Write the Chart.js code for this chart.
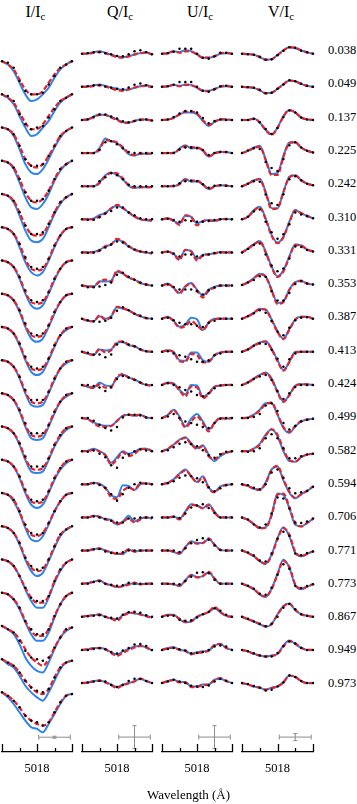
<!DOCTYPE html>
<html>
<head>
<meta charset="utf-8">
<script src="https://cdn.jsdelivr.net/npm/chart.js@4.4.1/dist/chart.umd.min.js"></script>
<style>
  body { margin:0; background:#fff; width:357px; height:804px; overflow:hidden; position:relative; font-family:"Liberation Serif","DejaVu Serif",serif; color:#000; }
  .panel { position:absolute; top:0; }
  .head { position:absolute; top:3px; font-size:16px; transform:translateX(-50%); white-space:nowrap; }
  .head sub { font-size:11px; vertical-align:-3px; line-height:0; }
  .phase { position:absolute; left:328px; font-size:12.5px; line-height:12px; }
  #xtitle { position:absolute; left:147px; top:788px; font-size:13px; line-height:13px; white-space:nowrap; }
</style>
</head>
<body>
<div class="head" style="left:35.5px">I/I<sub>c</sub></div>
<div class="head" style="left:120px">Q/I<sub>c</sub></div>
<div class="head" style="left:200px">U/I<sub>c</sub></div>
<div class="head" style="left:281px">V/I<sub>c</sub></div>
<canvas id="cI" class="panel"></canvas>
<canvas id="cQ" class="panel"></canvas>
<canvas id="cU" class="panel"></canvas>
<canvas id="cV" class="panel"></canvas>
<div id="xtitle">Wavelength (Å)</div>
<script>
// rotation phases, top to bottom
const phases = ['0.038','0.049','0.137','0.225','0.242','0.310','0.331','0.353','0.387','0.413',
                '0.424','0.499','0.582','0.594','0.706','0.771','0.773','0.867','0.949','0.973'];

// wavelength grid (A)
const wavelengths = [5017.4,5017.5,5017.6,5017.7,5017.8,5017.9,5018.0,5018.1,5018.2,5018.3,5018.4,5018.5,5018.6];
const tickLabels = [5018];
const majorTicks = [5017.4, 5018.0, 5018.6];
const minorTicks = [5017.7, 5018.3];

// Stokes I, percent of continuum
const iObs = [
  [100,99,96,88,82,80,80,81,86,91,96,98,100],
  [100,99,96,88,82,79,80,81,86,91,96,98,100],
  [100,99,96,89,81,77,77,78,83,89,95,98,100],
  [100,99,96,89,81,76,76,77,82,89,95,98,100],
  [100,99,96,89,81,76,76,77,82,89,95,98,100],
  [100,99,96,90,82,76,75,76,81,89,95,99,100],
  [100,99,96,90,82,76,75,76,81,89,95,99,100],
  [100,99,96,90,82,76,75,76,81,89,95,99,100],
  [100,99,96,90,82,76,75,76,81,89,95,99,100],
  [100,99,96,90,82,76,76,76,81,89,95,99,100],
  [100,99,96,90,82,76,76,76,81,89,95,99,100],
  [100,99,96,90,82,76,76,76,81,89,95,99,100],
  [100,99,96,90,82,76,75,76,81,89,95,99,100],
  [100,99,96,89,81,76,75,76,82,89,95,99,100],
  [100,99,96,90,81,76,74,75,80,88,95,98,100],
  [100,99,96,90,83,77,75,75,78,87,94,98,100],
  [100,99,96,91,83,78,75,75,78,86,93,98,100],
  [100,98,96,91,85,81,80,79,81,87,93,98,99],
  [100,98,96,92,87,83,81,80,82,89,95,98,99],
  [100,98,95,91,86,83,82,80,82,88,94,98,99]
];
const iDash = [
  [100,98,95,89,83,80,80,82,87,92,96,98,100],
  [100,98,95,89,83,79,79,82,87,92,96,98,100],
  [100,99,96,89,81,77,76,78,83,89,95,98,100],
  [100,99,96,89,81,76,75,77,82,89,95,98,100],
  [100,99,96,89,81,76,75,76,82,89,95,98,100],
  [100,99,96,90,81,75,74,75,81,89,95,99,100],
  [100,99,96,90,81,75,74,75,81,89,95,99,100],
  [100,99,96,90,81,75,74,75,81,89,95,99,100],
  [100,99,96,90,81,75,74,75,81,89,95,99,100],
  [100,99,96,90,81,75,74,75,81,89,95,99,100],
  [100,99,96,90,81,75,74,75,81,89,95,99,100],
  [100,99,96,90,81,75,74,75,81,89,95,99,100],
  [100,99,96,90,81,75,74,75,81,89,95,99,100],
  [100,99,96,89,80,75,74,76,82,89,95,99,100],
  [100,99,96,90,81,75,73,74,80,88,95,98,100],
  [100,99,96,90,83,77,74,74,78,87,94,98,100],
  [100,99,96,91,83,77,74,74,78,86,93,98,100],
  [100,98,96,92,86,81,78,76,80,87,93,98,99],
  [100,98,96,92,87,83,80,79,82,89,95,98,99],
  [100,98,95,91,86,83,81,80,82,88,94,98,99]
];
const iSolid = [
  [100,98,94,87,80,76,77,80,84,90,95,98,100],
  [100,98,94,87,80,75,76,80,84,90,95,98,100],
  [100,99,95,87,78,73,72,75,81,88,94,98,100],
  [100,99,95,87,78,72,71,74,80,88,94,98,100],
  [100,99,95,87,78,72,71,73,80,88,94,98,100],
  [100,99,96,88,79,73,71,73,80,88,95,99,100],
  [100,99,96,89,80,73,71,73,80,88,95,99,100],
  [100,99,96,89,80,73,71,73,80,88,95,99,100],
  [100,99,96,89,80,73,71,73,80,88,95,98,100],
  [100,99,96,89,80,73,72,73,80,88,95,98,100],
  [100,99,96,89,80,73,72,73,80,88,95,98,100],
  [100,99,96,89,80,73,72,73,80,88,94,98,100],
  [100,99,96,89,80,73,71,73,80,88,94,98,100],
  [100,99,95,88,79,72,71,74,81,89,95,99,100],
  [100,99,96,89,80,73,70,72,79,87,94,98,100],
  [100,99,96,90,82,75,71,71,77,86,93,98,100],
  [100,99,96,90,82,75,71,71,76,85,93,98,100],
  [100,98,95,89,81,76,73,72,78,86,93,97,99],
  [100,97,95,90,84,80,77,75,80,87,94,98,99],
  [100,97,93,88,83,79,78,76,81,87,93,98,99]
];

// Stokes Q, units of 1e-3 I_c
const qObs = [
  [0,0.3,0.7,0.8,0.3,-0.3,-1.2,-1.3,-0.3,1.3,1.7,0.8,-0.3],
  [0,0.3,0.8,0.8,0.2,-0.5,-1,-1.2,-0.3,1,1.7,0.8,0],
  [0,0.3,1.5,2.8,2.8,1.8,0.8,-0.7,-1.2,-0.5,0,0.2,-0.2],
  [0,0,0,1.5,5.5,6,4.5,2.5,0.5,0,0,0,0],
  [0,0,0,2.5,4.5,6.5,5.5,3.5,0.8,0,0,0,0],
  [0,-0.2,-0.2,1,3,4.2,6,6,3.5,2,0.5,0,0],
  [0,-0.2,0,1,2.5,4,5.5,5,3,1.5,0.5,0.2,0],
  [0,-0.8,-0.8,-0.5,0.3,1.5,5.5,6.5,4.5,3,1.5,0.5,0],
  [0,-0.8,-1.3,-1.5,-1,0.5,4,5.8,4.2,2.5,1.5,0.3,0],
  [0,-0.5,-1.3,-1.3,-2.7,-1.3,3.7,5,3.7,2.8,1.3,0.3,0],
  [0,0,-0.5,-1.3,-3,-1.3,3,4.5,3.7,2.5,1.2,0.2,0],
  [0,0,-1.3,-3.3,-5,-6.3,-4.5,0.3,1.7,1.7,1.3,0.3,0],
  [0,-0.3,0.3,-1.3,-3,-7,-8.3,-3.3,-1.7,0,0.8,0.3,0],
  [0,0,0.5,-0.3,-1.7,-5,-8.3,-5,-1.7,0,0.8,0.3,0],
  [0,0,0.5,0,-0.8,-1.7,-2.5,-2.5,-0.5,-0.5,0,0,0],
  [0,0,0.5,0.8,-0.5,-1.2,-1.2,-0.8,0,0,0,0,0],
  [0,0,0.8,1.2,0,-0.5,-1,-0.8,0.5,0,0,0,0],
  [0,0.3,0.5,0.8,0,-0.5,-0.8,1,2.3,2.5,2,0.8,0],
  [0,0,0.5,0.8,0.3,-1,-1.8,-0.3,1,2.8,3,2,0],
  [0,0.3,0.8,1.2,0.8,-1,-2,-1,1,2.2,2,1,0]
];
const qDash = [
  [0,0,0.5,1,0.3,-0.7,-1.7,-2,-1.3,-0.3,0.3,0.5,-0.3],
  [0,0,0.5,0.8,0.2,-0.8,-1.7,-2,-1.3,-0.3,0.3,0.5,-0.2],
  [0,0.3,1.3,2.5,2.5,1.2,0,-1.3,-1.5,-0.5,0.2,0.2,-0.3],
  [0,0,0,1.8,6.5,6.2,5.3,3,0,-1,-0.3,-0.3,-0.3],
  [0,0,0,1.5,5,6.8,6.5,4,0.5,-0.7,-0.5,-0.5,-0.5],
  [0,0,0,1.5,3,5.5,7.3,5.8,3.5,1.5,0,-0.3,-0.5],
  [0,0,0,1,3.2,4,6.8,5.5,3.3,1.5,0.5,0,-0.5],
  [0,-0.3,-0.5,2,3,2,7.5,6,4,3,1.3,0.5,0],
  [0,-1,-1.3,1.7,-0.5,1,6,5.3,4.2,2.5,1.3,0.3,0],
  [0,-0.8,-1.5,1.5,-0.3,0.8,4.8,5.3,3.5,2.8,1.2,0.3,0],
  [0,-0.8,-1.5,0.3,-1.3,-1,4,5.5,3.7,2.8,1.2,0,-0.2],
  [0,-0.5,-2.5,-4.3,-4.3,-4,-1.5,1,1.7,1.3,1.7,0.3,0],
  [0,0,0.8,-0.2,-2,-6.7,-4,-0.5,-2.5,-1.3,1,1.2,0],
  [0,0,0.8,0,-2,-6.5,-7.3,-3.3,-1.7,-2.8,0.5,0.5,0],
  [0,0,0.8,0.3,-1,-1.5,-3.5,-2.3,-0.5,-2.5,-1,0,-0.5],
  [0,0,0.8,1,0,-0.8,-1.7,-1.5,0.8,-0.5,0,0,0],
  [0,0.3,1,1.5,0,-0.8,-1.7,-1.3,-0.5,0.5,-0.3,0,0],
  [0,0.5,0.8,1.2,0,-1,-2,0.5,1.8,2,1.2,0.3,-0.5],
  [0,0.3,0.8,1,0.3,-1.5,-3,-1.5,0,1.2,2,1.3,-0.3],
  [0,0.3,0.8,1.2,0.3,-1,-2.5,-1,-0.2,0.8,2.2,1,0]
];
const qSolid = [
  [0,0.3,0.8,1.3,0.5,-0.5,-1.2,-1.7,-1.2,-0.5,0.3,0.7,-0.3],
  [0,0.3,0.7,1.2,0.5,-0.3,-1,-1.5,-1.2,-0.5,0.3,0.8,0],
  [0,0.5,1.7,2.8,2.5,1.5,0.3,-1.2,-1.3,-0.5,0.2,0.3,-0.3],
  [0,0,0,2.5,7.3,6,5,2.5,-0.5,-1.2,-0.3,-0.3,-0.3],
  [0,0,0,2,5.5,6.8,5.8,3.5,0.2,-0.8,-0.5,-0.5,-0.5],
  [0,0,0.5,2.2,3.2,5.5,7,5.5,3.5,1.3,0,-0.5,-0.7],
  [0,0,0.2,1.3,3,4,6.5,5.3,3,1.3,0.5,0,-0.5],
  [0,-0.3,-0.5,2.2,2,2.5,7,6,4,3,1.3,0.5,0],
  [0,-1.2,-1.3,1.3,0,1.2,5.8,5,4.2,2.5,1.3,0.3,0],
  [0,-1,-1.7,1.2,0.7,1.2,4.5,5,3.3,2.8,1.2,0.3,0],
  [0,-1,-1.3,1.2,-0.2,-0.5,3.7,5.3,3.7,2.8,1.2,0,-0.2],
  [0,-0.5,-2.2,-3.3,-3.8,-3.8,-1.3,1.2,1.7,1.2,1.7,0.3,0],
  [0,0.3,1.2,0,-1.7,-5.8,-3,0,-1.3,-0.3,1.2,1.2,0],
  [0,0,0.8,0.3,-1.7,-5.5,-6.5,-0.5,-0.8,-2.8,0,0.5,0],
  [0,0,0.8,0.3,-0.8,-1.2,-3.5,-2,0.8,-2,-0.5,0,-0.5],
  [0,0,0.8,1,0,-0.8,-1.7,-1.7,0.5,-0.5,0,0,0],
  [0,0.3,1,1.7,0,-0.8,-1.7,-1.2,0,0,-0.3,0,0],
  [0,0.5,0.8,1.2,0,-0.8,-1.2,0.8,2.2,1.7,1.2,0.5,-0.5],
  [0,0.3,1,1,0.5,-1.2,-2.3,-0.7,0.5,1.7,2,1.3,-0.3],
  [0,0.3,1,1.3,0.5,-0.7,-2,-0.7,0,1,2.2,1,0]
];

// Stokes U, units of 1e-3 I_c
const uObs = [
  [0,0.3,1,2.5,2.5,2.5,0,-2,-2.5,-1.3,0.5,0.5,0],
  [0,0.3,1,2.5,2.5,2.5,0,-2,-2.5,-1.2,0.3,0.5,0],
  [0,0.3,1.5,3.3,4.5,4.5,3.8,1,-1.7,-0.5,0.2,0,0],
  [0,0,0.2,1.8,2.8,2.8,2.5,1.5,-1,0,0.5,0.5,0],
  [0,0,0.2,1.5,2.5,2.8,2.5,1,-0.8,0.2,0.5,0.3,0],
  [0,0.3,-0.3,-1.2,-0.5,-0.8,-1.2,-1.2,-0.8,-0.3,0,0,0],
  [0,0.3,-0.5,-2,-1,-1,-2,-1.5,-1,-0.3,0,0,0],
  [0,0.5,-0.7,-2,-2,-2,-2.8,-4.5,-2.3,-1,0,0,0],
  [0,0.5,-0.8,-2,-2.8,-2.8,-3.5,-4.2,-2,-1,0,0,0],
  [0,0.3,-0.8,-1.7,-2.5,-3.7,-5,-5,-4.2,-1.7,-0.8,0,0],
  [0,0.8,0,-1.2,-2.5,-3.3,-5,-5.8,-4.2,-1.7,-0.3,0,0],
  [0,0.8,2,0,-1.7,-2.5,-3.3,-4.5,-5,-2.5,-0.3,0,0],
  [0,0.5,2,3.7,4.5,3.5,2.5,0.5,-2,-3.3,-1.5,-0.3,0],
  [0,0.5,1.5,3.3,4.5,4,3,1,-1.5,-3.5,-2,-0.5,0],
  [0,0,0.3,-0.3,2,5,6,6.7,4.7,2.2,0,0,0],
  [0,0,0,-0.7,1.2,3.7,5.3,6.2,5.5,2.5,0.3,0,0],
  [0,0,0,-0.3,1.3,3.5,5.5,5.8,5.3,2,0,0,0],
  [0,0.5,0.5,-1.5,-2,-1.7,-0.3,1.3,2.5,4.3,3,1,0],
  [0,0.5,1,0.3,-0.3,-1.7,-1.5,-1,0,1.7,2.2,1.7,0],
  [0,0.8,1.7,0.8,0,-1.3,-1.7,-2,-1.2,0.8,2,1.2,0]
];
const uDash = [
  [0,0.3,1.2,0.5,1.2,1,-0.3,-2,-2,-1.3,0.3,0.5,0],
  [0,0.3,1,0.3,1,0.8,-0.3,-2,-2.2,-1.2,0.2,0.5,0],
  [0,0.2,1,2.8,4.2,4.2,3.3,0,-2.5,-1,0.3,0.3,0],
  [0,0,0,2,3.5,3,2.8,1.5,-1.7,-0.3,0.5,0.5,0],
  [0,0,0,1,3.3,2.8,2.8,1,-1.5,-0.3,0.5,0.3,0],
  [0,0.5,-0.8,-2.8,2,1.2,-3,-1,-0.5,-0.8,0,0.2,0],
  [0,0.5,-1,-3.8,1.3,0.5,-4,-1.5,-1,-0.5,0,0,0],
  [0,0.8,-1.2,-4,-0.5,1,-2.5,-6,-2.5,-1,0,0,0],
  [0,0.8,-1.2,-4.5,-3.7,-1.2,-3.3,-5.7,-2,-0.3,0,0,0],
  [0,0.8,-0.3,-4.7,-5,-1,-1.7,-5.3,-5,-1.7,-0.3,0,0],
  [0,1,0.5,-2.8,-5.8,-0.8,-1.3,-6.7,-4.5,-1,-0.3,0,0],
  [0,1.5,4,0,-4.7,-1.7,0.8,-2.5,-6.7,-2.5,0,-0.3,0],
  [0,1.2,3.3,5.5,6.7,3.5,1.2,2.5,-2.5,-4,-1.7,-0.8,0],
  [0,0.8,2.5,5,7,4,1,3.5,-2,-4,-1.5,-0.3,0],
  [0,0,0.3,-1,2.5,6.3,6,4.5,6.2,2.5,0,0,0],
  [0,0,-0.5,-1.3,1.5,4.3,3.5,3.8,6.2,3,0.3,0,0],
  [0,0,-0.3,-1,1.5,4.2,3.2,3.8,6,2.7,0,0,0],
  [0,1,0.8,-1,-2.5,-2.3,0,1.3,2.5,5,2.5,0.5,0],
  [0,0.8,1.2,0,-0.5,-2.2,-1.5,-1.2,-0.3,2.5,3,1,0],
  [0,1,1.5,0.3,0.3,-2,-2,-1,-0.8,1.5,2.5,1,0]
];
const uSolid = [
  [0,0.3,1.3,0.8,1.7,1.3,-0.3,-2,-2,-1.3,0,0.3,0],
  [0,0.3,1,0.5,1.2,1,-0.5,-2,-2,-1,0,0.3,0],
  [0,0.2,1.2,2.8,3.7,3.7,2.8,-0.5,-3,-1,0.3,0.3,0],
  [0,0,0,2.3,4,2.3,2.8,1.2,-1.7,0,0.7,0.5,0],
  [0,0,0,1.3,3.8,2.2,2.5,0.8,-1.5,0,0.5,0.3,0],
  [0,0.5,-0.8,-2,1.8,1.3,-2,-0.8,-0.3,-0.8,0.2,0.2,0],
  [0,0.5,-0.8,-3.2,1.3,0.8,-3.3,-1.2,-0.8,-0.3,0.2,0,0],
  [0,1,-1.2,-3.7,-0.3,1.3,-2,-5,-2,-0.7,0,0,0],
  [0,1,-1.2,-4,-2.8,0.5,-0.3,-5.7,-2,0,0,0,0],
  [0,0.8,0,-4.2,-4.5,-0.3,-0.3,-4.3,-5,-1.7,-0.3,0,0],
  [0,1.3,0.8,-2.5,-4.7,0,-0.3,-5.8,-4.2,-0.8,-0.3,0,0],
  [0,1.7,4.2,0.8,-4.2,-0.3,2,-1.7,-5.8,-2.5,0,-0.3,0],
  [0,1.2,3.3,5.8,7,4,1.5,3,-1.7,-5,-2.5,-0.8,0],
  [0,0.8,2.5,5.5,7.5,4.2,1.2,4,-1.5,-3.8,-1,-0.3,0],
  [0,0,0.5,-0.7,3,6.7,6,4.7,6.7,3,0,0,0],
  [0,0,-0.7,-1.7,1.7,4.7,3.8,3.8,6,3,0.5,0,0],
  [0,0,-0.3,-1.2,1.7,4.5,3.3,3.8,5.8,2.5,0,0,0],
  [0,1,1,-1.2,-2.8,-2.3,0,1.3,2.2,4.3,2.2,0.5,0],
  [0,1,1.3,0,-0.3,-2,-1.2,-0.7,-0.3,2.2,3,1,0],
  [0,1,1.7,0.5,0.5,-1.7,-1.7,-0.7,-0.7,1.7,2.2,1,0]
];

// Stokes V, units of 1e-3 I_c
const vObs = [
  [0,-0.2,-0.5,-1.5,-3,-2.8,-0.7,1.5,3.3,3,1.5,0.7,0],
  [0,-0.2,-0.5,-1.5,-3.2,-3,-1,1.2,3.3,2.8,1.5,0.5,0],
  [0,0,0.5,-1.2,-4.5,-7,-4,1.5,4.8,3.8,1.2,0.3,0],
  [0,1.3,2.5,2,-4.5,-7.5,-9,-3,4,5.5,2.8,1.2,0.3],
  [0,1.3,2.5,2.2,-4.2,-8.5,-9.5,-4,3.5,5,3,1.3,0.5],
  [0,1.3,4,5,-1.2,-6.5,-9.8,-7.5,-2.5,3.5,2.5,1.5,0.5],
  [0,1.7,3.7,4.5,-1,-6.5,-9.5,-8,-3,3,2.8,1.3,0.5],
  [0.3,1.5,2.8,4.7,4.3,-2.8,-7.5,-7.5,-3.7,0.8,2.2,1,0.5],
  [0,1.2,2.7,4.3,3,-1.2,-6.5,-8.3,-4.5,-0.8,0.5,0.7,0],
  [0,1.2,3,4.2,4,1,-3.5,-7.5,-3.7,-0.8,0,0,0],
  [0,1.2,3,4.3,5,2.5,-3,-7,-4.2,-1,0,0,0],
  [0,0,0.5,2,6.3,7.5,3.5,-2.5,-5.8,-4,-1.7,-0.8,-0.3],
  [0,-0.3,0,1.5,6.5,8.5,6.5,1.5,-3.5,-3.5,-2.5,-1.7,-1.3],
  [0,-0.5,-1.7,-2.5,0,6,7.5,3.3,-2,-4.5,-4,-3.3,-1.2],
  [0,-1,-3.5,-5,-3.5,2,10,9.5,4.5,-2.5,-2.8,-2,-0.5],
  [0,-1,-2.5,-5,-5.5,-1.5,6,9.5,7.5,-1.5,-2.3,-1.2,-0.5],
  [0,-1,-2.5,-5,-5.5,-2,4.5,9.8,7.5,-1,-2.2,-1.2,-0.3],
  [0,-1,-2.3,-3.5,-4.8,-3.5,0,4.5,6.5,3.8,1.3,0.5,0],
  [0,-0.7,-1.7,-2.8,-3.3,-3.3,-1.5,2,4.3,3.2,1,0,0],
  [0,-0.5,-1.5,-2.3,-3.7,-3.3,-1.7,0.3,3.8,3,1,0,0]
];
const vDash = [
  [0,-0.2,-0.5,-1.7,-3,-2.8,-0.7,1.5,3.3,3,1.7,0.7,0],
  [0,-0.2,-0.5,-1.7,-3.2,-3,-1,1.2,3.2,2.8,1.5,0.5,0],
  [0,0,0.7,-1.3,-5,-7.5,-4,1.7,5,3.8,1.3,0.3,0],
  [0,1,2.5,3.3,-3.5,-11,-11,-2,5,5.5,2.8,1.2,0.3],
  [0,1.2,2.8,3.5,-3.3,-11.5,-11,-3,4.5,5.5,3,1.3,0.5],
  [0,1.2,4.3,6,0,-8.3,-12,-9,-1.5,4.5,3.2,1.8,0.5],
  [0,1.8,4,5.5,0,-7.5,-12.3,-9.5,-2.3,3.8,3.5,1.5,0.5],
  [0.3,1.5,3.5,5.7,4.5,-2.3,-9.2,-8.3,-2.2,1.5,2.5,1,0.5],
  [0,1.2,2.8,4.8,4.5,-0.8,-6.7,-10.3,-5.5,-0.5,1,1,0],
  [0,1.2,3,4.5,5.2,1.3,-4.7,-9.5,-5.2,-0.3,0,0,0],
  [0,1.2,3,4.8,6,2.8,-3.8,-8.5,-5.2,-0.5,0.3,0.3,0],
  [0,0.2,1.5,3.8,7,7.8,2,-4.5,-7,-4,-1.5,-0.7,-0.3],
  [0,0,1.2,3.3,7.8,11,8.3,1,-4.5,-5.2,-3,-1.7,-1.3],
  [0,-0.8,-2.2,-2.8,0.5,7.2,9.3,2.5,-3.7,-6.8,-5,-3.3,-1.2],
  [0,-1.2,-3.3,-5.5,-5.2,1,11.5,12,5.3,-3,-4.5,-2.8,-0.7],
  [0,-1.2,-2.8,-5.3,-6.7,-2.5,5.8,11.3,8,-0.5,-2.8,-1.7,-0.3],
  [0,-1.2,-2.8,-5.3,-6.5,-2.8,4.5,11.5,8.5,-0.3,-2.5,-1.5,-0.3],
  [0,-1.2,-2.3,-3.7,-4.8,-3.7,1,5.2,6.7,3.5,1.3,0.5,0],
  [0,-0.7,-2,-2.8,-3.3,-3,-2,1.7,4.5,3.2,1.2,0,0],
  [0,-0.7,-1.7,-2.3,-3.3,-2.5,-1.7,0.3,3.8,3.2,1,0,0]
];
const vSolid = [
  [0,-0.2,-0.5,-1.7,-3,-2.7,-0.5,1.7,3.3,2.8,1.7,0.7,0],
  [0,-0.2,-0.5,-1.7,-3.2,-3,-1,1.3,3.2,2.8,1.5,0.5,0],
  [0,0,0.7,-1.3,-5,-7.2,-3.8,2,5,3.7,1.2,0.3,0],
  [0,1.2,2.8,3.7,-3,-10.5,-10,-1.3,5.3,5.3,2.8,1.2,0.3],
  [0,1.3,3,3.8,-2.8,-11,-11.2,-2.8,4.7,5.5,3,1.3,0.5],
  [0,1.3,4.7,6.3,0.5,-7.8,-11.7,-8.7,-1.2,4.7,3,1.8,0.5],
  [0,2,4.2,5.8,0.5,-7,-12,-9,-2,4,3.5,1.5,0.5],
  [0.3,1.7,3.8,6,4.7,-2,-8.7,-8,-2,1.7,2.3,1,0.5],
  [0,1.3,3,5,4.7,-0.3,-6.2,-10,-5.3,-0.3,1,1,0],
  [0,1.3,3.3,4.7,5.3,1.7,-4.2,-9.2,-5,0,0,0,0],
  [0,1.3,3.3,5,6.3,3.3,-3.3,-8.3,-5,-0.3,0.3,0.3,0],
  [0,0.3,1.7,4.2,7.5,7.5,1.7,-5,-7.5,-4.2,-1.7,-0.8,-0.3],
  [0,0,1.3,3.7,8.3,11,7.5,0,-5,-5.3,-3,-1.7,-1.3],
  [0,-0.8,-2.2,-2.8,1,7.5,9,2,-4.2,-7,-5,-3.3,-1.2],
  [0,-1.2,-3.3,-5.3,-5,1.3,12,11.3,4.7,-3.7,-4.5,-2.8,-0.7],
  [0,-1.2,-2.8,-5.3,-6.7,-2,6.3,11.7,7.2,-1.2,-2.8,-1.7,-0.3],
  [0,-1.2,-2.8,-5.5,-6.7,-2.5,5,12,8,-0.8,-2.8,-1.5,-0.3],
  [0,-1.2,-2.3,-3.7,-5,-3.7,1.3,5.5,6.7,3.3,1.3,0.5,0],
  [0,-0.7,-2,-2.8,-3.3,-2.8,-2,2.2,4.7,3,1,0,0],
  [0,-0.7,-1.7,-2.3,-3.3,-2.3,-1.7,0.5,3.8,3,1,0,0]
];

// typical error bars, one per panel (I, Q, U, V)
const errCenter = [5018.3, 5018.3, 5018.3, 5018.3];
const errHalfWidth = [0.27, 0.27, 0.27, 0.27];
const errHalfHeight = [0.6, 5.75, 5.75, 1.75];

const RED = '#e8222b', BLUE = '#2f84ec', GREY = '#8c8c8c';
const SERIF = "'Liberation Serif', 'DejaVu Serif', serif";

// ticks pointing up into the plot from the bottom axis
const inwardTicks = {
  id: 'inwardTicks',
  afterDraw(chart) {
    const { ctx, chartArea } = chart;
    const x = chart.scales.x;
    ctx.save();
    ctx.strokeStyle = '#000';
    ctx.lineWidth = 1.3;
    const draw = (v, len) => {
      const px = Math.round(x.getPixelForValue(v)) + 0.5;
      ctx.beginPath();
      ctx.moveTo(px, chartArea.bottom);
      ctx.lineTo(px, chartArea.bottom - len);
      ctx.stroke();
    };
    majorTicks.forEach(v => draw(v, 8));
    minorTicks.forEach(v => draw(v, 4));
    ctx.restore();
  }
};

const errorBar = {
  id: 'errorBar',
  afterDatasetsDraw(chart, args, opts) {
    const { ctx } = chart;
    const { x, y } = chart.scales;
    const cx = x.getPixelForValue(opts.x);
    const x0 = x.getPixelForValue(opts.x - opts.dx);
    const x1 = x.getPixelForValue(opts.x + opts.dx);
    const cy = y.getPixelForValue(opts.y);
    const y0 = y.getPixelForValue(opts.y + opts.dy);
    const y1 = y.getPixelForValue(opts.y - opts.dy);
    ctx.save();
    ctx.strokeStyle = GREY;
    ctx.lineWidth = 1;
    ctx.beginPath();
    ctx.moveTo(x0, cy); ctx.lineTo(x1, cy);
    ctx.moveTo(x0, cy - 2.5); ctx.lineTo(x0, cy + 2.5);
    ctx.moveTo(x1, cy - 2.5); ctx.lineTo(x1, cy + 2.5);
    ctx.moveTo(cx, y0); ctx.lineTo(cx, y1);
    ctx.moveTo(cx - 2, y0); ctx.lineTo(cx + 2, y0);
    ctx.moveTo(cx - 2, y1); ctx.lineTo(cx + 2, y1);
    ctx.stroke();
    ctx.restore();
  }
};

function profile(row, shift) {
  return wavelengths.map((w, i) => ({ x: w, y: row[i] - shift }));
}

// left/right pixel edges of each panel's wavelength axis
function buildPanel(id, left, right, obs, dash, solid, step, yMin, yMax, errLevel, n) {
  const canvas = document.getElementById(id);
  const pad = 4;
  canvas.width = right - left + 2 * pad;
  canvas.height = 804;
  canvas.style.left = (left - pad) + 'px';
  const datasets = [];
  phases.forEach((p, k) => {
    const shift = k * step;
    datasets.push({ data: profile(solid[k], shift), borderColor: BLUE, borderWidth: 2,
      pointRadius: 0, cubicInterpolationMode: 'monotone', clip: false, order: 3 });
    datasets.push({ data: profile(dash[k], shift), borderColor: RED, borderWidth: 2.2,
      borderDash: [5, 2.5], pointRadius: 0, cubicInterpolationMode: 'monotone', clip: false, order: 2 });
    datasets.push({ data: profile(obs[k], shift), showLine: false, pointRadius: 1.25,
      pointBackgroundColor: '#000', pointBorderWidth: 0, clip: false, order: 1 });
  });
  new Chart(canvas, {
    type: 'line',
    data: { datasets },
    options: {
      responsive: false,
      animation: false,
      events: [],
      layout: { padding: { left: pad, right: pad, top: 0, bottom: 0 } },
      plugins: {
        legend: { display: false },
        tooltip: { enabled: false },
        errorBar: { x: errCenter[n], dx: errHalfWidth[n], y: errLevel, dy: errHalfHeight[n] }
      },
      scales: {
        x: {
          type: 'linear',
          min: wavelengths[0],
          max: wavelengths[wavelengths.length - 1],
          grid: { display: false, drawTicks: false },
          border: { display: true, color: '#000', width: 1.3 },
          afterBuildTicks: s => { s.ticks = tickLabels.map(v => ({ value: v })); },
          afterFit: s => { s.height = 52; },
          ticks: { color: '#000', padding: 9, maxRotation: 0, autoSkip: false,
                   font: { family: SERIF, size: 12.5 },
                   callback: v => String(v) }
        },
        y: { display: false, min: yMin, max: yMax }
      }
    },
    plugins: [inwardTicks, errorBar]
  });
}

buildPanel('cI', 2, 72, iObs, iDash, iSolid, 20, -315.9, 134.4, -307, 0);
buildPanel('cQ', 82, 152, qObs, qDash, qSolid, 16.65, -351, 25, -343.5, 1);
buildPanel('cU', 162, 232, uObs, uDash, uSolid, 16.65, -351, 25, -343.5, 2);
buildPanel('cV', 242, 313, vObs, vDash, vSolid, 16.65, -351, 25, -343.5, 3);

phases.forEach((p, k) => {
  const d = document.createElement('div');
  d.className = 'phase';
  d.textContent = p;
  d.style.top = (50 + 33.3 * k - 6) + 'px';
  document.body.appendChild(d);
});
</script>
</body>
</html>
